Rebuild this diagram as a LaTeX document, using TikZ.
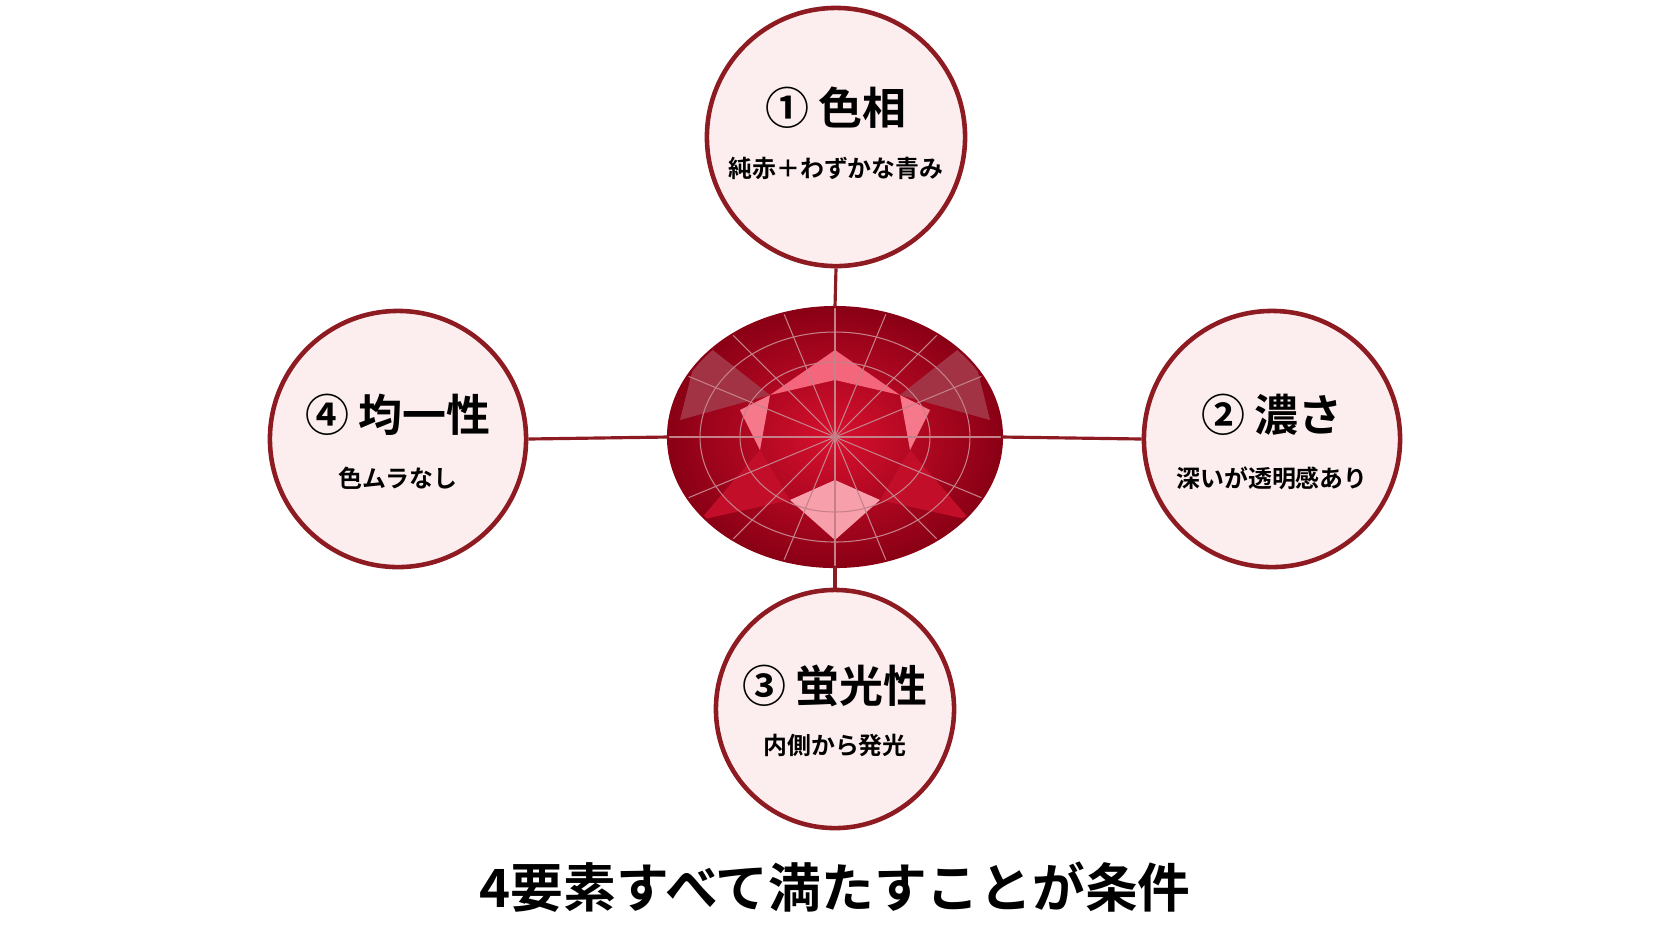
\documentclass[tikz,border=0pt]{standalone}
\usepackage{fontspec}
\setmainfont{Noto Sans CJK JP}[BoldFont={Noto Sans CJK JP Bold}]
\usetikzlibrary{positioning,shadings}
\definecolor{rubyline}{HTML}{8E1B22}
\definecolor{rubyfill}{HTML}{FCEEEF}
\definecolor{rubydark}{HTML}{8A0015}
\definecolor{rubymid}{HTML}{D8102E}
\definecolor{rubylight}{HTML}{F0405A}
\tikzset{
  factor/.style={circle,draw=rubyline,line width=1.3pt,fill=rubyfill,minimum size=#1,inner sep=0pt},
  head/.style={font=\bfseries\fontsize{12.5}{14}\selectfont},
  sub/.style={font=\bfseries\fontsize{6.8}{8}\selectfont},
  link/.style={draw=rubyline,line width=0.9pt},
  facet/.style={draw=rubydark!50,line width=0.3pt}
}
\begin{document}
\begin{tikzpicture}[x=0.01cm,y=-0.01cm]
\useasboundingbox[fill=white] (0,0) rectangle (1672,941);
% ruby
\coordinate (ruby) at (835,437);
\shade[inner color=rubymid,outer color=rubydark] (ruby) ellipse [x radius=167,y radius=130];
\begin{scope}
\clip (ruby) ellipse [x radius=167,y radius=130];
\fill[rubylight!80] (835,350) -- (900,395) -- (835,380) -- (770,395) -- cycle;
\fill[rubylight!70] (740,410) -- (770,395) -- (760,450) -- cycle;
\fill[rubylight!70] (930,410) -- (900,395) -- (910,450) -- cycle;
\fill[rubylight!50] (790,500) -- (835,480) -- (880,500) -- (835,540) -- cycle;
\fill[rubydark!80] (700,340) -- (770,395) -- (680,420) -- cycle;
\fill[rubydark!80] (970,340) -- (900,395) -- (990,420) -- cycle;
\fill[rubymid!90!black] (760,450) -- (790,500) -- (700,520) -- cycle;
\fill[rubymid!90!black] (910,450) -- (880,500) -- (970,520) -- cycle;
\foreach \a in {0,22.5,...,337.5}
  \draw[facet] (ruby) -- ++(\a:200);
\draw[facet] (ruby) ellipse [x radius=95,y radius=75];
\draw[facet] (ruby) ellipse [x radius=135,y radius=105];
\end{scope}
\draw[rubydark,line width=0.6pt] (ruby) ellipse [x radius=167,y radius=130];
\coordinate (rubyN) at (835,307);
\coordinate (rubyS) at (835,567);
\coordinate (rubyW) at (668,437);
\coordinate (rubyE) at (1002,437);
% factors
\node[factor=2.58cm] (hue) at (836,137) {};
\node[factor=2.56cm] (depth) at (1272,439) {};
\node[factor=2.38cm] (glow) at (835,709) {};
\node[factor=2.56cm] (even) at (398,439) {};
\path[link] (hue.south) -- (rubyN);
\path[link] (glow.north) -- (rubyS);
\path[link] (even.east) -- (rubyW);
\path[link] (depth.west) -- (rubyE);
\node[head] at (836,108) {① 色相};
\node[sub] at (836,168) {純赤＋わずかな青み};
\node[head] at (1272,415) {② 濃さ};
\node[sub] at (1272,478) {深いが透明感あり};
\node[head] at (835,686) {③ 蛍光性};
\node[sub] at (835,745) {内側から発光};
\node[head] at (398,415) {④ 均一性};
\node[sub] at (398,478) {色ムラなし};
\node[font=\bfseries\fontsize{15}{17}\selectfont] (goal) at (835,887) {4要素すべて満たすことが条件};
\end{tikzpicture}
\end{document}
